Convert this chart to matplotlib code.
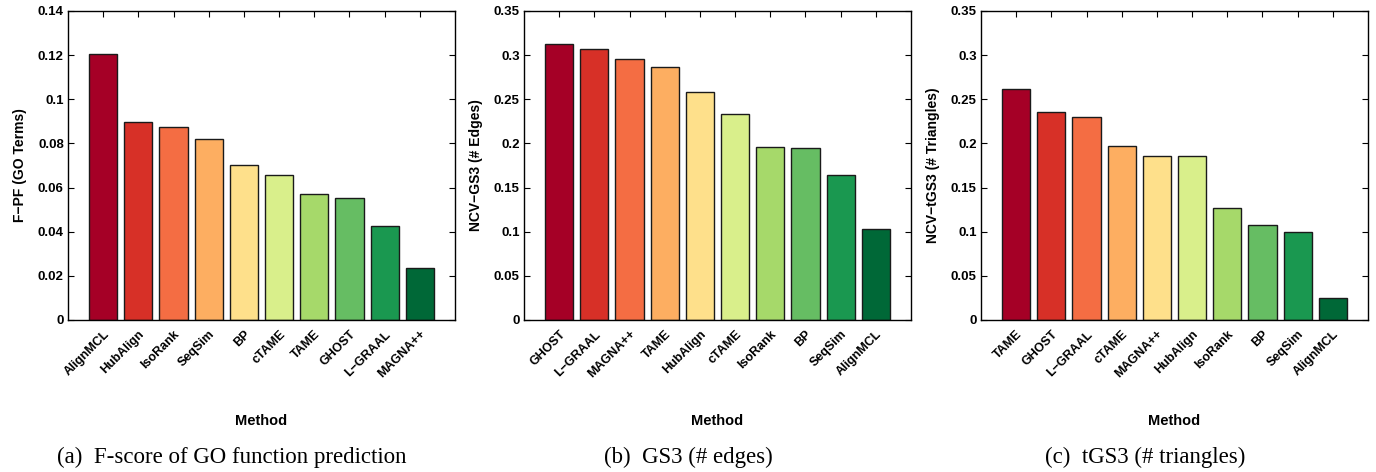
import matplotlib
matplotlib.use("Agg")
import matplotlib.pyplot as plt
import numpy as np

# panel (a): F-score of GO function prediction
methods_a = ['AlignMCL', 'HubAlign', 'IsoRank', 'SeqSim', 'BP', 'cTAME',
             'TAME', 'GHOST', 'L\u2212GRAAL', 'MAGNA++']
values_a = [0.1204, 0.0895, 0.0875, 0.0821, 0.0700, 0.0656,
            0.0573, 0.0551, 0.0428, 0.0235]

# panel (b): GS3 (# edges)
methods_b = ['GHOST', 'L\u2212GRAAL', 'MAGNA++', 'TAME', 'HubAlign', 'cTAME',
             'IsoRank', 'BP', 'SeqSim', 'AlignMCL']
values_b = [0.3123, 0.3070, 0.2957, 0.2863, 0.2580, 0.2338,
            0.1954, 0.1950, 0.1648, 0.1030]

# panel (c): tGS3 (# triangles)
methods_c = ['TAME', 'GHOST', 'L\u2212GRAAL', 'cTAME', 'MAGNA++', 'HubAlign',
             'IsoRank', 'BP', 'SeqSim', 'AlignMCL']
values_c = [0.2614, 0.2353, 0.2304, 0.1969, 0.1863, 0.1855,
            0.1267, 0.1071, 0.0996, 0.0253]

bar_colors = ['#a50026', '#d73027', '#f46d43', '#fdae61', '#fee08b',
              '#d9ef8b', '#a6d96a', '#66bd63', '#1a9850', '#006837']

ylabels = ['F\u2212PF (GO Terms)', 'NCV\u2212GS3 (# Edges)', 'NCV\u2212tGS3 (# Triangles)']
captions = ['(a)  F-score of GO function prediction', '(b)  GS3 (# edges)',
            '(c)  tGS3 (# triangles)']
ymaxes = [0.14, 0.35, 0.35]
ysteps = [0.02, 0.05, 0.05]

plt.rcParams['font.family'] = ['Liberation Sans', 'DejaVu Sans']

fig = plt.figure(figsize=(13.76, 4.72), dpi=100)
lefts = [68, 524, 981]
W, H = 1376.0, 472.0

panels = [(methods_a, values_a), (methods_b, values_b), (methods_c, values_c)]
for i, (methods, values) in enumerate(panels):
    ax = fig.add_axes([lefts[i] / W, 1 - 320 / H, 387 / W, 309 / H])
    x = np.arange(1, len(methods) + 1)
    ax.bar(x, values, width=0.8, color=bar_colors, edgecolor='#1a1a1a', linewidth=1.0, zorder=2)
    ax.set_xlim(0, 11)
    ax.set_ylim(0, ymaxes[i])
    yt = np.arange(0, ymaxes[i] + 1e-9, ysteps[i])
    ax.set_yticks(yt)
    ax.set_yticklabels(['%g' % round(v, 3) for v in yt], fontsize=9.5, fontweight='bold')
    ax.set_xticks(x)
    ax.set_xticklabels(methods, rotation=45, ha='right', va='top',
                       rotation_mode='anchor', fontsize=9, fontweight='bold')
    ax.tick_params(direction='in', length=4, width=0.8, top=True, right=True, pad=3)
    ax.tick_params(axis='x', pad=6)
    for s in ax.spines.values():
        s.set_linewidth(1.0)
    ax.set_ylabel(ylabels[i], fontsize=10, fontweight='bold', labelpad=8)
    cx = (lefts[i] + 193) / W
    fig.text(cx, 1 - 421 / H, 'Method', ha='center', va='center',
             fontsize=10.5, fontweight='bold')
    fig.text(cx - 29 / W, 1 - 457 / H, captions[i], ha='center', va='center',
             fontsize=16.5, family=['Liberation Serif', 'DejaVu Serif'])

fig.savefig('out.png', dpi=100)
